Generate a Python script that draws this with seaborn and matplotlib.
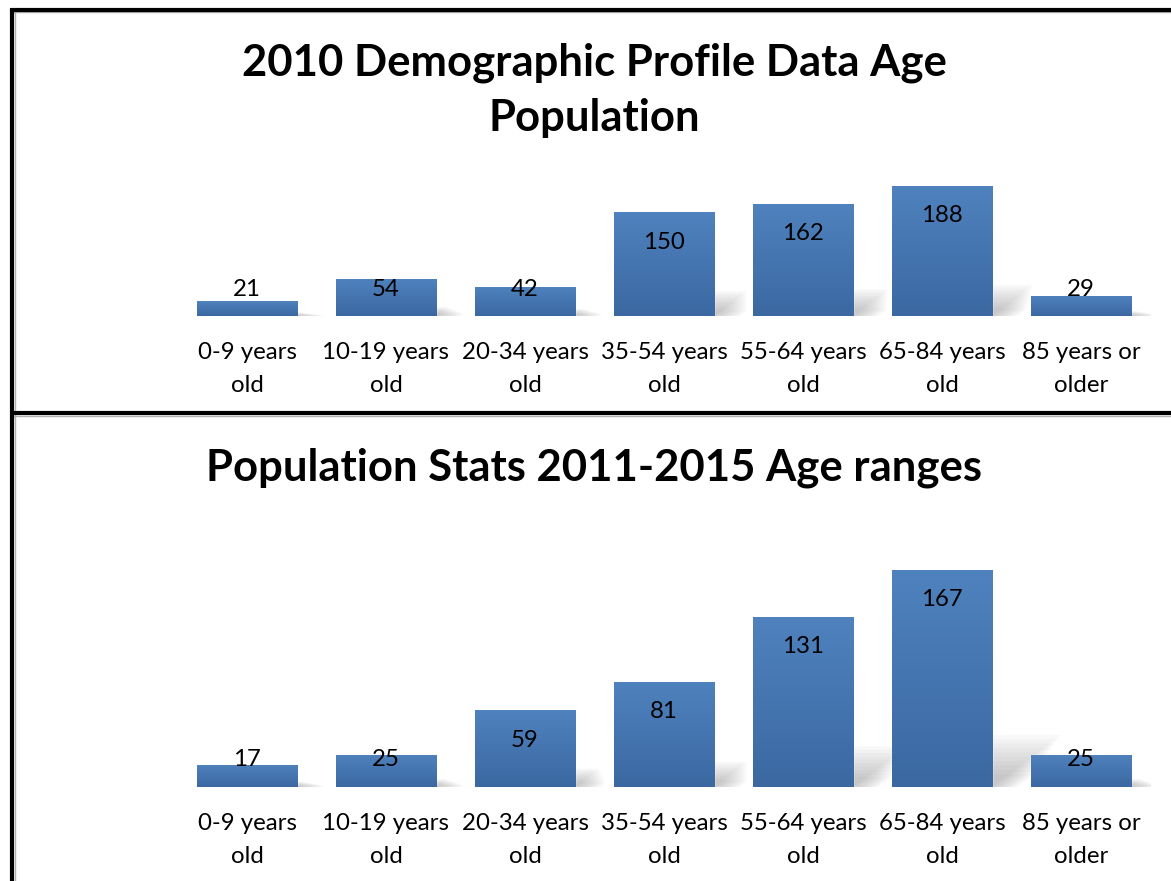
import matplotlib.pyplot as plt
import matplotlib.colors as mcolors
from matplotlib.patches import Polygon
from matplotlib.lines import Line2D
import numpy as np
import seaborn as sns

# --- data ---
age_groups = ["0-9 years\nold", "10-19 years\nold", "20-34 years\nold",
              "35-54 years\nold", "55-64 years\nold", "65-84 years\nold",
              "85 years or\nolder"]
pop_2010 = [21, 54, 42, 150, 162, 188, 29]
pop_2011_2015 = [17, 25, 59, 81, 131, 167, 25]

title_2010 = "2010 Demographic Profile Data Age\nPopulation"
title_2015 = "Population Stats 2011-2015 Age ranges"

sns.set_theme(style="white")
plt.rcParams["font.family"] = ["Lato", "DejaVu Sans"]
plt.rcParams["text.color"] = "black"

W, H = 1171, 881
fig = plt.figure(figsize=(W / 100, H / 100), dpi=100)
fig.patch.set_facecolor("white")

top_col = "#4f82be"
bot_col = "#3b68a1"
grad_cmap = mcolors.LinearSegmentedColormap.from_list("bar", [bot_col, top_col])
LABEL_SIZE = 17.3


def bar_panel(ax, values, ymax, px_per_unit):
    """Draw one panel of gradient bars with soft shadows and inside labels."""
    sns.barplot(x=age_groups, y=values, ax=ax, color=top_col, width=0.72,
                saturation=1, zorder=3)
    bars = list(ax.patches)
    ax.set_xlim(-0.5, 6.5)
    ax.set_ylim(0, ymax)
    for s in ax.spines.values():
        s.set_visible(False)
    ax.set_yticks([])
    ax.set_ylabel("")
    ax.tick_params(axis="x", length=0, pad=18.5, labelsize=LABEL_SIZE,
                   colors="black")
    for lbl in ax.get_xticklabels():
        lbl.set_linespacing(1.72)

    # shadows: skewed, blurred grey shapes cast up and to the right
    for p, v in zip(bars, values):
        xl = p.get_x()
        xr = xl + p.get_width()
        hpx = v * px_per_unit
        dx = 0.32 * hpx / 139
        dy = 0.24 * v
        for k in range(10):
            f = 1 - k / 12
            poly = Polygon([(xl + 0.05, 0), (xr + 0.02 * k, 0),
                            (xr + dx * f + 0.02 * k, dy * f),
                            (xl + dx * f, dy * f)],
                           closed=True, facecolor="#6f6f6f", edgecolor="none",
                           alpha=0.045, zorder=1)
            ax.add_patch(poly)

    # vertical gradient clipped to each bar
    grad = np.linspace(0, 1, 256).reshape(-1, 1)
    for p in bars:
        xl = p.get_x()
        xr = xl + p.get_width()
        h = p.get_height()
        im = ax.imshow(grad, cmap=grad_cmap, aspect="auto", origin="lower",
                       extent=[xl, xr, 0, h], zorder=4)
        im.set_clip_path(p)

    # value labels: near the top inside, but kept above a floor for short bars
    off_top = 30 / px_per_unit
    floor = 27 / px_per_unit
    for i, v in enumerate(values):
        y = max(v - off_top, floor)
        ax.text(i, y, str(v), ha="center", va="center", fontsize=LABEL_SIZE,
                color="black", zorder=6)
    ax.set_xlim(-0.5, 6.5)
    ax.set_ylim(0, ymax)


# axes placement (pixels)
left = (247 - 69.5) / W
width = 973 / W

ppu_top = 130 / 188
ax1 = fig.add_axes([left, (H - 316) / H, width, 200 * ppu_top / H])
ax1.patch.set_alpha(0)
bar_panel(ax1, pop_2010, 200, ppu_top)

ppu_bot = 217 / 167
ax2 = fig.add_axes([left, (H - 787) / H, width, 180 * ppu_bot / H])
ax2.patch.set_alpha(0)
bar_panel(ax2, pop_2011_2015, 180, ppu_bot)

# titles
fig.text(594.5 / W, 1 - 90 / H, title_2010, ha="center", va="center",
         fontsize=31.4, fontweight="bold", linespacing=1.46, color="black")
fig.text(594.5 / W, 1 - 468 / H, title_2015, ha="center", va="center",
         fontsize=31.4, fontweight="bold", color="black")

# frame lines
def fig_line(x0, y0, x1, y1, lw, color="black"):
    fig.add_artist(Line2D([x0 / W, x1 / W], [1 - y0 / H, 1 - y1 / H],
                          color=color, lw=lw, solid_capstyle="butt"))

fig_line(10, 11.5, W, 11.5, 1, "#b0b0b0")
fig_line(14.5, 10, 14.5, H, 1, "#b0b0b0")
fig_line(10, 416, W, 416, 1, "#b0b0b0")
fig_line(10, 9.5, W, 9.5, 3)
fig_line(12, 8, 12, H, 3)
fig_line(10, 413, W, 413, 3)

fig.savefig("out.png", dpi=100)
